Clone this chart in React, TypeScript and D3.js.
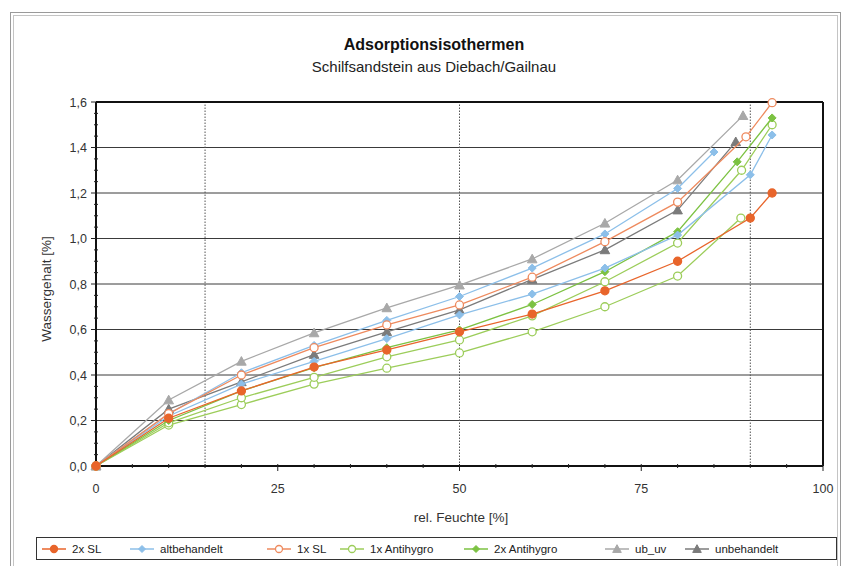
import React from "react";
import * as d3 from "d3";

// rel. Feuchte [%] / Wassergehalt [%]
const xSL2 = [0, 10, 20, 30, 40, 50, 60, 70, 80, 90, 93];
const ySL2 = [0, 0.21, 0.33, 0.435, 0.51, 0.59, 0.668, 0.77, 0.9, 1.09, 1.2];

const xAlt1 = [0, 10, 20, 30, 40, 50, 60, 70, 80, 85];
const yAlt1 = [0, 0.23, 0.41, 0.53, 0.64, 0.745, 0.87, 1.02, 1.22, 1.38];
const xAlt2 = [0, 10, 20, 30, 40, 50, 60, 70, 80, 90, 93];
const yAlt2 = [0, 0.22, 0.36, 0.46, 0.56, 0.664, 0.756, 0.87, 1.015, 1.28, 1.455];

const xSL1 = [0, 10, 20, 30, 40, 50, 60, 70, 80, 89.4, 93];
const ySL1 = [0, 0.23, 0.4, 0.52, 0.62, 0.708, 0.83, 0.986, 1.16, 1.447, 1.597];

const xAH1a = [0, 10, 20, 30, 40, 50, 60, 70, 80, 88.8, 93];
const yAH1a = [0, 0.19, 0.3, 0.39, 0.48, 0.554, 0.66, 0.81, 0.98, 1.3, 1.5];
const xAH1b = [0, 10, 20, 30, 40, 50, 60, 70, 80, 88.7];
const yAH1b = [0, 0.18, 0.27, 0.36, 0.43, 0.497, 0.59, 0.7, 0.835, 1.09];

const xAH2 = [0, 10, 20, 30, 40, 50, 60, 70, 80, 88.2, 93];
const yAH2 = [0, 0.2, 0.33, 0.432, 0.52, 0.598, 0.71, 0.854, 1.03, 1.337, 1.53];

const xUbuv = [0, 10, 20, 30, 40, 50, 60, 70, 80, 89];
const yUbuv = [0, 0.29, 0.46, 0.585, 0.695, 0.795, 0.91, 1.067, 1.257, 1.54];

const xUnb = [0, 10, 20, 30, 40, 50, 60, 70, 80, 88];
const yUnb = [0, 0.25, 0.37, 0.49, 0.59, 0.686, 0.82, 0.95, 1.125, 1.425];

const legendNames = ["2x SL", "altbehandelt", "1x SL", "1x Antihygro", "2x Antihygro", "ub_uv", "unbehandelt"];
const yTicks = [0, 0.2, 0.4, 0.6, 0.8, 1.0, 1.2, 1.4, 1.6];
const xTicks = [0, 25, 50, 75, 100];
const xDotted = [15, 50, 90];

const styles = {
  "2x SL": { color: "#e8652b", marker: "circle", fill: true },
  "altbehandelt": { color: "#8cbfe9", marker: "diamond", fill: true },
  "1x SL": { color: "#ee8a5e", marker: "circle", fill: false },
  "1x Antihygro": { color: "#9ccd5a", marker: "circle", fill: false },
  "2x Antihygro": { color: "#7cc242", marker: "diamond", fill: true },
  "ub_uv": { color: "#a8a8a8", marker: "triangle", fill: true },
  "unbehandelt": { color: "#7b7b7b", marker: "triangle", fill: true },
};

const series = [
  { name: "unbehandelt", x: xUnb, y: yUnb },
  { name: "ub_uv", x: xUbuv, y: yUbuv },
  { name: "1x Antihygro", x: xAH1b, y: yAH1b },
  { name: "1x Antihygro", x: xAH1a, y: yAH1a },
  { name: "2x Antihygro", x: xAH2, y: yAH2 },
  { name: "altbehandelt", x: xAlt2, y: yAlt2 },
  { name: "altbehandelt", x: xAlt1, y: yAlt1 },
  { name: "1x SL", x: xSL1, y: ySL1 },
  { name: "2x SL", x: xSL2, y: ySL2 },
];

const font = "'Liberation Sans', Arial, sans-serif";

function Marker({ cx, cy, st, size = 4 }) {
  const fill = st.fill ? st.color : "#fff";
  if (st.marker === "circle")
    return <circle cx={cx} cy={cy} r={size} fill={fill} stroke={st.color} strokeWidth={1.3} />;
  if (st.marker === "diamond") {
    const s = size;
    return <path d={`M${cx},${cy - s}L${cx + s},${cy}L${cx},${cy + s}L${cx - s},${cy}Z`} fill={fill} stroke={st.color} strokeWidth={1} />;
  }
  const s = size + 0.8;
  return <path d={`M${cx},${cy - s}L${cx + s},${cy + s * 0.8}L${cx - s},${cy + s * 0.8}Z`} fill={fill} stroke={st.color} strokeWidth={1} />;
}

export default function App() {
  const W = 846, H = 566;
  const x = d3.scaleLinear().domain([0, 100]).range([96, 823]);
  const y = d3.scaleLinear().domain([0, 1.6]).range([466, 102]);
  const line = d3.line<number>();
  const fmt = (v: number) => v.toFixed(1).replace(".", ",");
  const minorY = d3.range(0, 1.6001, 0.05);
  const minorX = d3.range(0, 100.001, 5);

  // legend text start positions
  const legendX = [72, 160, 297, 370, 494, 635, 715];

  return (
    <svg width={W} height={H} style={{ position: "absolute", left: 0, top: 0, fontFamily: font }}>
      <rect x={0} y={0} width={W} height={H} fill="#fff" />
      {/* outer frame */}
      <rect x={10.5} y={12.5} width={830} height={570} fill="none" stroke="#9a9a9a" strokeWidth={1} />
      <rect x={13.5} y={15.5} width={824} height={570} fill="none" stroke="#c4c4c4" strokeWidth={1} />

      <text x={434} y={50} textAnchor="middle" fontSize={16} fontWeight="bold" fill="#111">Adsorptionsisothermen</text>
      <text x={434} y={72} textAnchor="middle" fontSize={15} fill="#222">Schilfsandstein aus Diebach/Gailnau</text>

      {/* grid */}
      {yTicks.map((t) => (
        <line key={"g" + t} x1={x(0)} x2={x(100)} y1={y(t)} y2={y(t)} stroke="#3a3a3a" strokeWidth={1} />
      ))}
      {xDotted.map((t) => (
        <line key={"d" + t} x1={x(t)} x2={x(t)} y1={y(0)} y2={y(1.6)} stroke="#555" strokeWidth={1} strokeDasharray="1.5,1.5" />
      ))}
      {/* plot border */}
      <line x1={x(0)} x2={x(100)} y1={y(1.6)} y2={y(1.6)} stroke="#111" strokeWidth={2} />
      <line x1={x(100)} x2={x(100)} y1={y(1.6)} y2={y(0)} stroke="#111" strokeWidth={2} />
      <line x1={x(0)} x2={x(100)} y1={y(0)} y2={y(0)} stroke="#111" strokeWidth={2} />
      <line x1={x(0)} x2={x(0)} y1={y(1.6)} y2={y(0)} stroke="#111" strokeWidth={2} />

      {/* ticks */}
      {minorY.map((t, i) => (
        <line key={"my" + i} x1={x(0) - (i % 4 === 0 ? 5 : 2)} x2={x(0) + (i % 4 === 0 ? 0 : 2)} y1={y(t)} y2={y(t)} stroke="#222" strokeWidth={1} />
      ))}
      {minorX.map((t, i) => (
        <line key={"mx" + i} x1={x(t)} x2={x(t)} y1={y(0) - 2} y2={y(0) + (i % 5 === 0 ? 5 : 2)} stroke="#222" strokeWidth={1} />
      ))}
      {yTicks.map((t) => (
        <text key={"yl" + t} x={87} y={y(t) + 4.5} textAnchor="end" fontSize={12.5} fill="#333">{fmt(t)}</text>
      ))}
      {xTicks.map((t) => (
        <text key={"xl" + t} x={x(t)} y={493} textAnchor="middle" fontSize={12.5} fill="#333">{t}</text>
      ))}

      <text x={461} y={522} textAnchor="middle" fontSize={13.5} fill="#333">rel. Feuchte [%]</text>
      <text transform={`translate(51,289) rotate(-90)`} textAnchor="middle" fontSize={13.5} fill="#333">Wassergehalt [%]</text>

      {/* series */}
      {series.map((s, i) => {
        const st = styles[s.name];
        const pts = s.x.map((v, j) => [x(v), y(s.y[j])] as [number, number]);
        return (
          <g key={"s" + i}>
            <path d={line(pts) || ""} fill="none" stroke={st.color} strokeWidth={1.3} />
            {pts.map((p, j) => (
              <Marker key={j} cx={p[0]} cy={p[1]} st={st} />
            ))}
          </g>
        );
      })}

      {/* legend */}
      <rect x={36.5} y={537.5} width={800} height={22} fill="#fff" stroke="#333" strokeWidth={1} />
      {legendNames.map((n, i) => {
        const st = styles[n];
        const tx = legendX[i];
        return (
          <g key={"l" + n}>
            <line x1={tx - 30} x2={tx - 6} y1={549} y2={549} stroke={st.color} strokeWidth={1.5} />
            <Marker cx={tx - 18} cy={549} st={st} size={3.5} />
            <text x={tx} y={553} fontSize={11.5} fill="#222">{n}</text>
          </g>
        );
      })}
    </svg>
  );
}
